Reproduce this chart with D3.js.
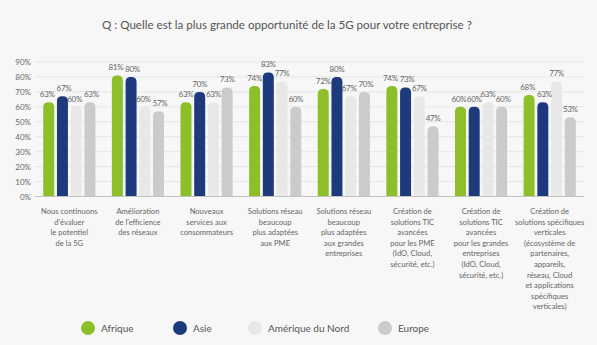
<!DOCTYPE html>
<html>
<head>
<meta charset="utf-8">
<script src="https://cdn.jsdelivr.net/npm/d3@7"></script>
<style>
  body { margin: 0; background: #f7f7f7; }
  svg { display: block; font-family: Lato, "Open Sans", sans-serif; }
</style>
</head>
<body>
<div id="root"></div>
<script>
var categories = [
  ["Nous continuons", "d'évaluer", "le potentiel", "de la 5G"],
  ["Amélioration", "de l'efficience", "des réseaux"],
  ["Nouveaux", "services aux", "consommateurs"],
  ["Solutions réseau", "beaucoup", "plus adaptées", "aux PME"],
  ["Solutions réseau", "beaucoup", "plus adaptées", "aux grandes", "entreprises"],
  ["Création de", "solutions TIC", "avancées", "pour les PME", "(IdO, Cloud,", "sécurité, etc.)"],
  ["Création de", "solutions TIC", "avancées", "pour les grandes", "entreprises", "(IdO, Cloud,", "sécurité, etc.)"],
  ["Création de", "solutions spécifiques", "verticales", "(écosystème de", "partenaires,", "appareils,", "réseau, Cloud", "et applications", "spécifiques", "verticales)"]
];
var seriesNames = ["Afrique", "Asie", "Amérique du Nord", "Europe"];
var afrique = [63, 81, 63, 74, 72, 74, 60, 68];
var asie = [67, 80, 70, 83, 80, 73, 60, 63];
var ameriqueNord = [60, 60, 63, 77, 67, 67, 63, 77];
var europe = [63, 57, 73, 60, 70, 47, 60, 53];
var yTicks = [0, 10, 20, 30, 40, 50, 60, 70, 80, 90];

var colors = ["#8dbf2a", "#1d3a7c", "#e8e8e8", "#cbcbcb"];
var series = [afrique, asie, ameriqueNord, europe];

var width = 597, height = 345;
var svg = d3.select("#root").append("svg")
    .attr("width", width)
    .attr("height", height);

// title
svg.append("text")
    .attr("x", 287).attr("y", 29)
    .attr("text-anchor", "middle")
    .attr("font-size", 11.6)
    .attr("fill", "#555")
    .text("Q : Quelle est la plus grande opportunité de la 5G pour votre entreprise ?");

var x = d3.scaleBand()
    .domain(d3.range(categories.length))
    .range([35, 584])
    .paddingInner(0.24)
    .paddingOuter(0.12);
var xs = d3.scaleBand()
    .domain(d3.range(series.length))
    .range([0, x.bandwidth()])
    .paddingInner(0.2);
var y = d3.scaleLinear()
    .domain([0, 90])
    .range([196.5, 62]);

// gridlines
svg.append("g").selectAll("line")
  .data(yTicks.filter(function(d) { return d > 0; }))
  .enter().append("line")
    .attr("x1", 35).attr("x2", 584)
    .attr("y1", function(d) { return y(d); })
    .attr("y2", function(d) { return y(d); })
    .attr("stroke", "#e6e6e6")
    .attr("stroke-width", 1);

// y axis labels
svg.append("g").selectAll("text")
  .data(yTicks)
  .enter().append("text")
    .attr("x", 31)
    .attr("y", function(d) { return y(d) + 3; })
    .attr("text-anchor", "end")
    .attr("font-size", 8)
    .attr("fill", "#666")
    .text(function(d) { return d + "%"; });

// bars with rounded tops
function barPath(x0, w, yTop, yBase) {
  var r = Math.min(w / 2, 5, yBase - yTop);
  return "M" + x0 + "," + yBase +
    "V" + (yTop + r) +
    "Q" + x0 + "," + yTop + " " + (x0 + r) + "," + yTop +
    "H" + (x0 + w - r) +
    "Q" + (x0 + w) + "," + yTop + " " + (x0 + w) + "," + (yTop + r) +
    "V" + yBase + "Z";
}

var groups = svg.append("g").selectAll("g")
  .data(categories)
  .enter().append("g")
    .attr("transform", function(d, i) { return "translate(" + x(i) + ",0)"; });

groups.each(function(c, i) {
  var g = d3.select(this);
  var vals = series.map(function(s, k) { return {k: k, v: s[i], dx: 0}; });
  // nudge neighbouring labels apart when they sit at about the same height
  for (var k = 1; k < vals.length; k++) {
    if (Math.abs(y(vals[k].v) - y(vals[k - 1].v)) < 8) {
      vals[k - 1].dx -= 1.5;
      vals[k].dx += 1.5;
    }
  }
  g.selectAll("path")
    .data(vals)
    .enter().append("path")
      .attr("d", function(d) { return barPath(xs(d.k), xs.bandwidth(), y(d.v), y(0)); })
      .attr("fill", function(d) { return colors[d.k]; });
  g.selectAll("text.val")
    .data(vals)
    .enter().append("text")
      .attr("class", "val")
      .attr("x", function(d) { return xs(d.k) + xs.bandwidth() / 2 + d.dx; })
      .attr("y", function(d) { return y(d.v) - 5; })
      .attr("text-anchor", "middle")
      .attr("font-size", 8)
      .attr("letter-spacing", -0.3)
      .attr("fill", "#666")
      .text(function(d) { return d.v + "%"; });
});

// baseline
svg.append("line")
    .attr("x1", 35).attr("x2", 584)
    .attr("y1", y(0)).attr("y2", y(0))
    .attr("stroke", "#c4c4c4");

// category labels
groups.append("text")
    .attr("text-anchor", "middle")
    .attr("font-size", 7.6)
    .attr("fill", "#666")
    .attr("x", x.bandwidth() / 2)
    .selectAll("tspan")
    .data(function(d) { return d; })
    .enter().append("tspan")
      .attr("x", x.bandwidth() / 2)
      .attr("y", function(d, j) { return 214 + j * 10.6; })
      .text(function(d) { return d; });

// legend
var legendX = [88, 180, 255, 385];
var legend = svg.append("g").selectAll("g")
  .data(seriesNames)
  .enter().append("g")
    .attr("transform", function(d, i) { return "translate(" + legendX[i] + ",328)"; });
legend.append("circle")
    .attr("r", 7)
    .attr("fill", function(d, i) { return colors[i]; });
legend.append("text")
    .attr("x", 13)
    .attr("y", 3.5)
    .attr("font-size", 10)
    .attr("fill", "#555")
    .text(function(d) { return d; });
</script>
</body>
</html>
